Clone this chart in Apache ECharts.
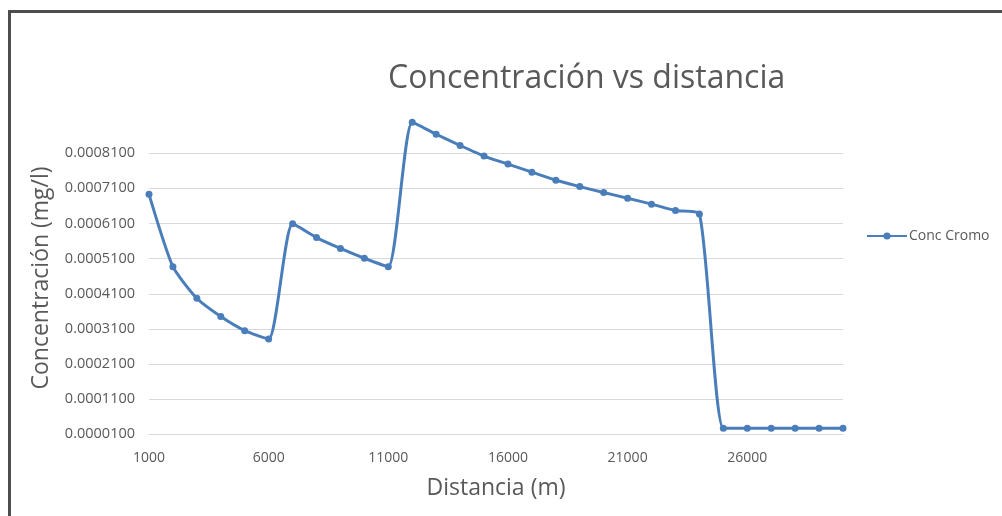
<!DOCTYPE html>
<html>
<head>
<meta charset="utf-8">
<script src="https://cdn.jsdelivr.net/npm/echarts@6/dist/echarts.min.js"></script>
<style>
html,body{margin:0;padding:0;background:#fff;}
#chart{width:1002px;height:516px;}
</style>
</head>
<body>
<div id="chart"></div>
<script>
var distances = [1000, 2000, 3000, 4000, 5000, 6000, 7000, 8000, 9000, 10000,
  11000, 12000, 13000, 14000, 15000, 16000, 17000, 18000, 19000, 20000,
  21000, 22000, 23000, 24000, 25000, 26000, 27000, 28000, 29000, 30000];
var concCromo = [0.000693, 0.000487, 0.000397, 0.000345, 0.000305, 0.000281, 0.000609, 0.000570, 0.000539, 0.000511,
  0.000487, 0.000898, 0.000864, 0.000832, 0.000802, 0.000779, 0.000756, 0.000733, 0.000715, 0.000698,
  0.000682, 0.000665, 0.000647, 0.000637, 0.000027, 0.000027, 0.000027, 0.000027, 0.000027, 0.000027];
var xTicks = [1000, 6000, 11000, 16000, 21000, 26000];
var yTicks = [0.00001, 0.00011, 0.00021, 0.00031, 0.00041, 0.00051, 0.00061, 0.00071, 0.00081];

var chart = echarts.init(document.getElementById('chart'), null, {renderer: 'canvas'});
var grey = '#595959';
var lineColor = '#4a7ebb';
chart.setOption({
  animation: false,
  backgroundColor: '#ffffff',
  title: {
    text: 'Concentración vs distancia',
    left: 388,
    top: 63,
    padding: 0,
    textStyle: {fontFamily: 'Open Sans', fontSize: 32, fontWeight: 'normal', color: grey}
  },
  legend: {
    left: 866,
    top: 229,
    itemWidth: 40,
    itemHeight: 9,
    padding: 0,
    textStyle: {fontFamily: 'Open Sans', fontSize: 14, color: grey, padding: [0, 0, 0, -3]},
    data: ['Conc Cromo']
  },
  grid: {left: 149, right: 159, top: 121.6, bottom: 81.7, containLabel: false},
  xAxis: {
    type: 'value',
    min: xTicks[0],
    max: distances[distances.length - 1],
    interval: xTicks[1] - xTicks[0],
    name: 'Distancia (m)',
    nameLocation: 'middle',
    nameGap: 43,
    nameTextStyle: {fontFamily: 'Open Sans', fontSize: 23, color: grey},
    axisLine: {show: true, lineStyle: {color: '#d9d9d9', width: 1}},
    axisTick: {show: false},
    splitLine: {show: false},
    axisLabel: {
      fontFamily: 'Open Sans', fontSize: 14, color: grey, margin: 17,
      showMaxLabel: false,
      formatter: function (v) { return String(Math.round(v)); }
    }
  },
  yAxis: {
    type: 'value',
    min: yTicks[0],
    max: 0.0009,
    interval: yTicks[1] - yTicks[0],
    name: 'Concentración (mg/l)',
    nameLocation: 'middle',
    nameGap: 96,
    nameTextStyle: {fontFamily: 'Open Sans', fontSize: 23, color: grey},
    axisLine: {show: false},
    axisTick: {show: false},
    splitLine: {show: true, showMaxLine: false, lineStyle: {color: '#d9d9d9', width: 1}},
    axisLabel: {
      fontFamily: 'Open Sans', fontSize: 14.5, color: grey, margin: 14,
      showMaxLabel: false,
      formatter: function (v) { return v.toFixed(7); }
    }
  },
  series: [{
    name: 'Conc Cromo',
    type: 'line',
    data: distances.map(function (d, i) { return [d, concCromo[i]]; }),
    smooth: 0.2,
    clip: true,
    symbol: 'circle',
    symbolSize: 7,
    showAllSymbol: true,
    lineStyle: {color: lineColor, width: 3},
    itemStyle: {color: lineColor}
  }],
  graphic: [{
    type: 'rect',
    silent: true,
    shape: {x: 9.5, y: 11.5, width: 1200, height: 700},
    style: {fill: 'none', stroke: '#4d4d4d', lineWidth: 3}
  }]
});
</script>
</body>
</html>
